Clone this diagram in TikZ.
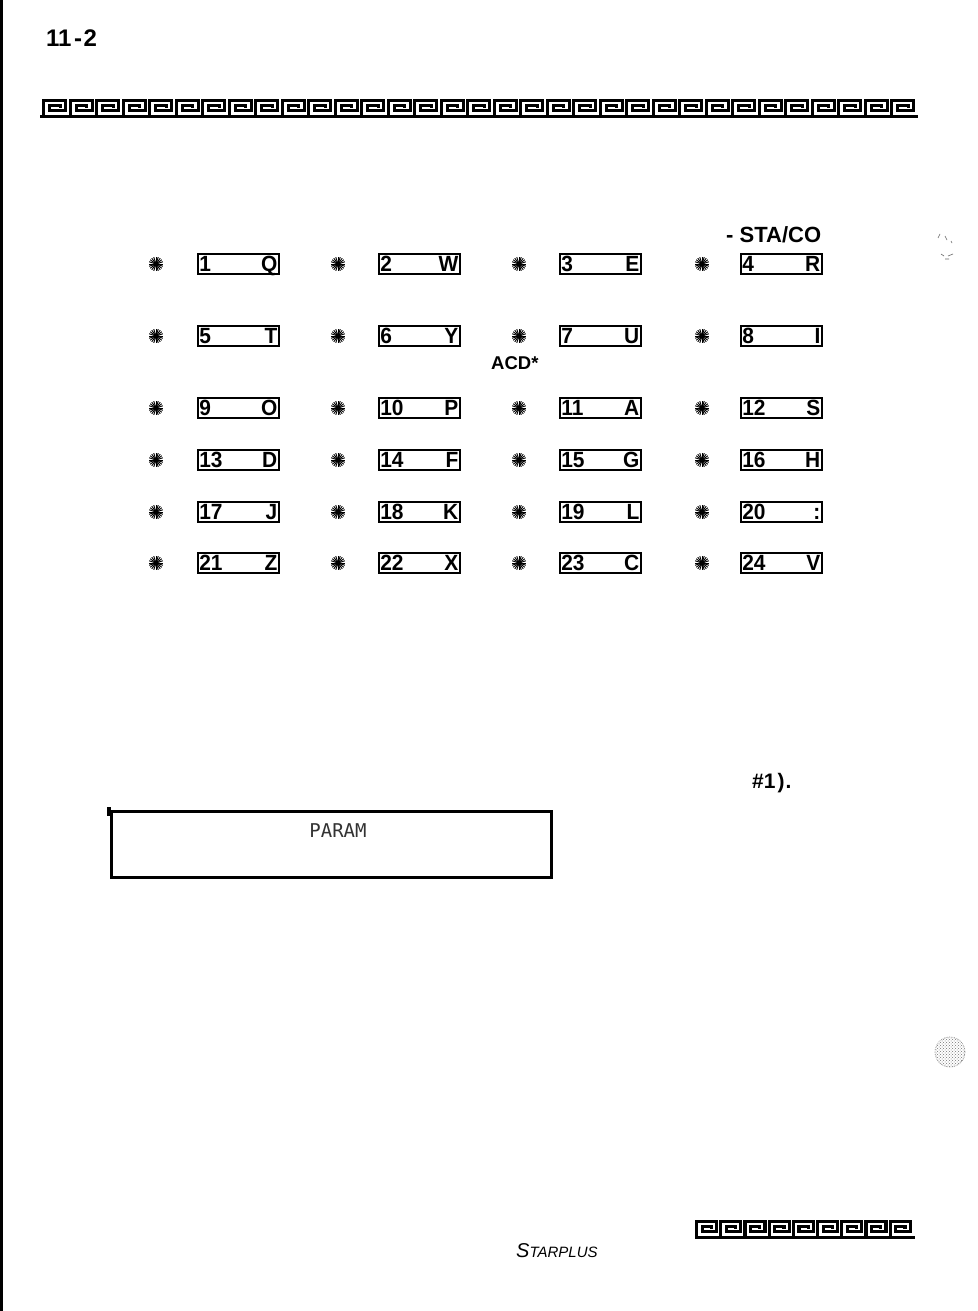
\documentclass[tikz,border=0pt]{standalone}
\usepackage{fontspec}
\usetikzlibrary{patterns}
\setmainfont{Liberation Sans}
\newfontfamily\keyfont[FakeStretch=0.95]{Liberation Sans}
\newfontfamily\paramfont{DejaVu Sans Mono}
\begin{document}
\begin{tikzpicture}[x=1pt,y=-1pt,
  keybox/.style={draw, line width=1.7pt, text height=15.5pt, text depth=0pt, text width=78pt,
    inner xsep=1.5pt, inner ysep=2pt, font=\keyfont\bfseries\fontsize{22}{22}\selectfont},
  gk/.style={line width=3.2pt, line cap=butt, line join=miter},
  lbl/.style={inner sep=0pt, font=\bfseries\fontsize{22}{22}\selectfont},
  burst/.pic={\foreach \a in {0,18,...,342} \draw[line width=0.9pt] (\a:1.0) -- (\a:7.2);
    \fill (0,0) circle (2.6);}
]
\useasboundingbox (0,0) rectangle (977,1311);
\fill[white] (0,0) rectangle (977,1311);
% left edge bar
\fill[black] (0,0) rectangle (2.5,1311);

% page number
\node[lbl, anchor=base west, font=\bfseries\fontsize{24}{24}\selectfont] (pagenum) at (46,47) {11\kern2.5pt-\kern1.5pt2};

% top greek key band
\draw[gk] (40,116.4) -- (918,116.4);
\foreach \i in {0,...,32} {
  \begin{scope}[shift={(42+\i*26.5,99)}]
    \draw[gk] (1.6,17.4) -- (1.6,1.6) -- (23.8,1.6) -- (23.8,11.6) -- (7.6,11.6) -- (7.6,6.6) -- (18.2,6.6) -- (18.2,8.6);
  \end{scope}
}

% bottom greek key band
\draw[gk] (695,1237.4) -- (915,1237.4);
\foreach \i in {0,...,8} {
  \begin{scope}[shift={(695+\i*24.2,1220)}]
    \draw[gk] (1.6,17.4) -- (1.6,1.6) -- (21.6,1.6) -- (21.6,11.6) -- (7.2,11.6) -- (7.2,6.6) -- (16.4,6.6) -- (16.4,8.6);
  \end{scope}
}

% labels
\node[lbl, anchor=base west] (staco) at (726,242) {- STA/CO};
\node[lbl, anchor=base west, font=\bfseries\fontsize{18.5}{18.5}\selectfont] (acd) at (491,369) {ACD*};
\node[lbl, anchor=base west, font=\bfseries\fontsize{21}{21}\selectfont] (hash) at (752,788) {\#1\kern2pt)\kern1pt.};

% key grid
\foreach \n/\l/\c/\r in {
  1/Q/0/0, 2/W/1/0, 3/E/2/0, 4/R/3/0,
  5/T/0/1, 6/Y/1/1, 7/U/2/1, 8/I/3/1,
  9/O/0/2, 10/P/1/2, 11/A/2/2, 12/S/3/2,
  13/D/0/3, 14/F/1/3, 15/G/2/3, 16/H/3/3,
  17/J/0/4, 18/K/1/4, 19/L/2/4, 20/:/3/4,
  21/Z/0/5, 22/X/1/5, 23/C/2/5, 24/V/3/5} {
  \pgfmathsetmacro{\bx}{{197,378,559,740}[\c]}
  \pgfmathsetmacro{\sx}{{156,338,519,702}[\c]}
  \pgfmathsetmacro{\ry}{{264,336,408,460,512,563}[\r]}
  \node[keybox, anchor=west] (k\n) at (\bx,\ry) {\n\hfill\l};
  \pic at (\sx,\ry) {burst};
}

% PARAM display box
\node[draw, line width=2.5pt, minimum width=440pt, minimum height=66pt, anchor=north west, inner sep=0pt] (param) at (110,810) {};
\node[inner sep=0pt, font=\paramfont\fontsize{19}{19}\selectfont, text=black!80] (paramtext) at (338,831) {PARAM};
\fill (107,807) rectangle (111,816);

% footer
\node[inner sep=0pt, anchor=base west, font=\itshape] (starplus) at (516,1257)
  {{\fontsize{20}{20}\selectfont S}{\fontsize{15}{15}\selectfont TARPLUS}};

% scanner specks on the right
\draw[black!60, line width=0.6pt] (938,238) -- (940,234) (945,236) -- (947,240) (951,241) -- (952,243)
  (941,254) -- (944,256) (948,256) -- (953,254) (945,259) -- (949,259);
\fill[pattern=crosshatch dots, pattern color=black!55] (950,1052) circle (15);
\draw[black!45, densely dotted, line width=0.7pt] (950,1052) circle (15);
\end{tikzpicture}
\end{document}
